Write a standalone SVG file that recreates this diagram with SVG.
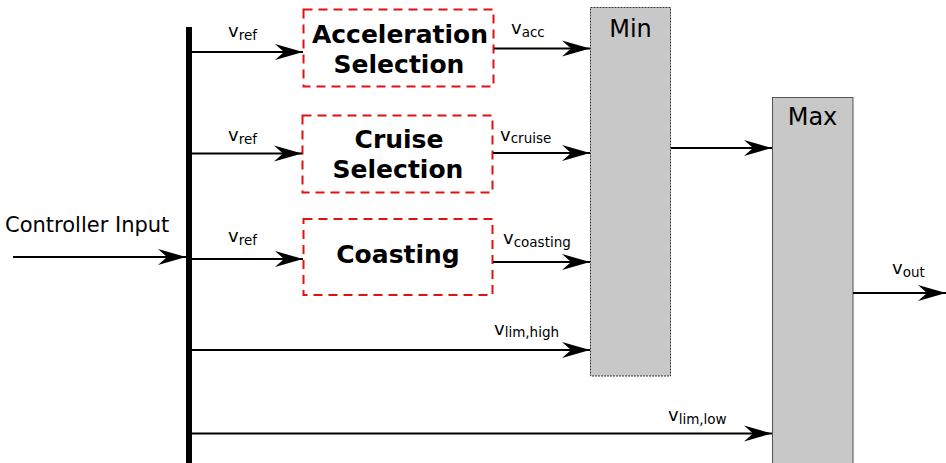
<svg xmlns="http://www.w3.org/2000/svg" width="946" height="463" viewBox="0 0 946 463">
<style>
text{font-family:"DejaVu Sans",Verdana,sans-serif;fill:#000}
.lbl{font-size:18px}
.sub{font-size:13.5px}
.title{font-size:25px;font-weight:bold;text-anchor:middle}
.op{font-size:24px;text-anchor:middle}
.sel{fill:#fff;stroke:#e31010;stroke-width:2;stroke-dasharray:9 6}
.gate{fill:#c8c8c8;stroke:#333;stroke-width:1;stroke-dasharray:2 1}
.gate2{fill:#c8c8c8;stroke:#555;stroke-width:1}
.wire{stroke:#000;stroke-width:2;fill:none;marker-end:url(#ah)}
</style>
<defs>
<marker id="ah" markerUnits="userSpaceOnUse" markerWidth="30" markerHeight="20" refX="28" refY="9" orient="auto" viewBox="0 0 30 20">
<path d="M0,1 L28,9 L0,17 L9,9 Z" fill="#000"/>
</marker>
</defs>
<rect width="946" height="463" fill="#fff"/>
<g id="bus"><line x1="189" y1="27" x2="189" y2="463" stroke="#000" stroke-width="6"/></g>
<g id="input"><text x="5" y="232" style="font-size:21px">Controller Input</text></g>
<g id="acc"><rect class="sel" x="303.5" y="9.5" width="190" height="77"/>
<text class="title" x="400" y="43">Acceleration</text><text class="title" x="399" y="73">Selection</text></g>
<g id="cruise"><rect class="sel" x="302.5" y="115.5" width="190" height="77"/>
<text class="title" x="399" y="148">Cruise</text><text class="title" x="398" y="178">Selection</text></g>
<g id="coast"><rect class="sel" x="303.5" y="219" width="189" height="76"/>
<text class="title" x="398" y="263">Coasting</text></g>
<g id="min"><rect class="gate" x="590.5" y="7.5" width="80" height="368.5"/>
<text class="op" x="630.5" y="37">Min</text></g>
<g id="max"><rect class="gate2" x="772.5" y="97.5" width="80.5" height="375"/>
<text class="op" x="812.5" y="125">Max</text></g>
<g id="connectors">
<line class="wire" x1="13" y1="257" x2="186" y2="257"/>
<line class="wire" x1="192" y1="52" x2="303" y2="52"/>
<line class="wire" x1="192" y1="153.5" x2="302" y2="153.5"/>
<line class="wire" x1="192" y1="259" x2="303" y2="259"/>
<line class="wire" x1="494" y1="48.5" x2="590" y2="48.5"/>
<line class="wire" x1="493" y1="153" x2="590" y2="153"/>
<line class="wire" x1="493" y1="262" x2="590" y2="262"/>
<line class="wire" x1="192" y1="350" x2="590" y2="350"/>
<line class="wire" x1="192" y1="433.5" x2="772" y2="433.5"/>
<line class="wire" x1="671" y1="148" x2="772" y2="148"/>
<line class="wire" x1="853" y1="293" x2="946" y2="293"/>
</g>
<g id="labels">
<text class="lbl" x="228" y="37">v<tspan class="sub" dy="3">ref</tspan></text>
<text class="lbl" x="228" y="141">v<tspan class="sub" dy="2.5">ref</tspan></text>
<text class="lbl" x="228" y="242">v<tspan class="sub" dy="3">ref</tspan></text>
<text class="lbl" x="511" y="33.5">v<tspan class="sub" dy="3">acc</tspan></text>
<text class="lbl" x="500" y="140.5">v<tspan class="sub" dy="2.5">cruise</tspan></text>
<text class="lbl" x="503" y="243.5">v<tspan class="sub" dy="3">coasting</tspan></text>
<text class="lbl" x="494" y="335">v<tspan class="sub" dy="2">lim,high</tspan></text>
<text class="lbl" x="668" y="421">v<tspan class="sub" dy="2.5">lim,low</tspan></text>
<text class="lbl" x="892" y="274">v<tspan class="sub" dy="2.5">out</tspan></text>
</g>
</svg>
